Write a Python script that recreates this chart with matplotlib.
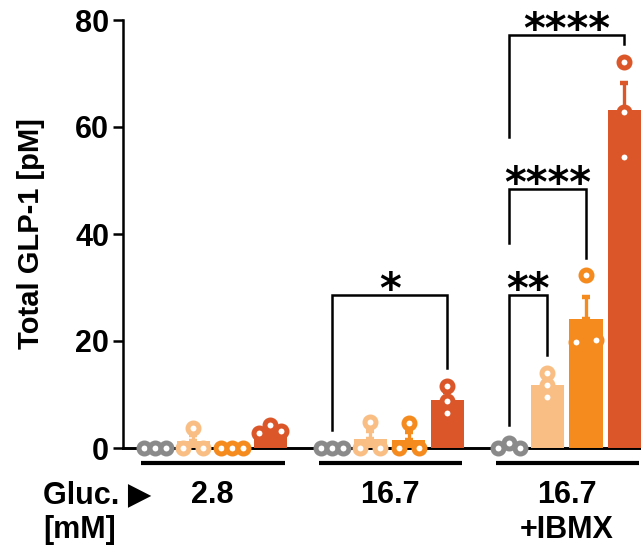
import numpy as np
import matplotlib.pyplot as plt

plt.rcParams['font.family'] = ['Liberation Sans', 'DejaVu Sans']
plt.rcParams['font.weight'] = 'bold'
plt.rcParams['axes.labelweight'] = 'bold'

# total GLP-1 [pM], three replicates per bar, four bars per glucose condition
gluc_labels = ['2.8', '16.7', '16.7\n+IBMX']
colors = ['#8a8a8a', '#f9be84', '#f58a1f', '#db5628']
gluc_2_8 = [[0, 0, 0], [3.7, 0, 0], [0, 0, 0], [2.8, 4.3, 3.2]]
gluc_16_7 = [[0, 0, 0], [4.9, 0, 0], [4.6, 0, 0], [11.6, 8.8, 6.6]]
gluc_16_7_ibmx = [[0, 1.0, 0], [14.0, 11.8, 9.5], [32.3, 19.9, 20.2], [72.2, 62.8, 54.4]]

# significance: (condition, bar a, bar b, stars, bracket height)
sig_cond = [1, 2, 2, 2]
sig_a = [0, 0, 0, 0]
sig_b = [3, 1, 2, 3]
sig_text = ['*', '**', '****', '****']
sig_top = [28.6, 28.6, 48.4, 77.2]

all_groups = [gluc_2_8, gluc_16_7, gluc_16_7_ibmx]

fig = plt.figure(figsize=(6.41, 5.48), dpi=100)
ax = fig.add_axes([123 / 641, 100 / 548, 1 - 123 / 641, 428 / 548])

xlim = (-0.83, 12.63)
ylim = (0, 80)
px_x = 518 / (xlim[1] - xlim[0])   # pixels per x unit
px_y = 428 / (ylim[1] - ylim[0])   # pixels per y unit
group_step = 4.6


def swarm(vals, d=11):
    # put near-equal values side by side, keep replicate order in a row
    vals = np.asarray(vals, float)
    order = np.argsort(vals, kind='stable')
    rows, cur = [], [order[0]]
    for i in order[1:]:
        if (vals[i] - vals[cur[0]]) * px_y < d:
            cur.append(i)
        else:
            rows.append(cur)
            cur = [i]
    rows.append(cur)
    off = np.zeros(len(vals))
    for r in rows:
        r = sorted(r)
        n = len(r)
        gap = 20 if n == 2 else 11
        for k, i in enumerate(r):
            off[i] = (k - (n - 1) / 2) * gap / px_x
    return off


bar_x = {}
bar_top = {}
for g, grp in enumerate(all_groups):
    for b, vals in enumerate(grp):
        x = g * group_step + b
        vals = np.array(vals, float)
        m = vals.mean()
        sem = vals.std(ddof=1) / np.sqrt(len(vals))
        ax.bar(x, m, width=0.86, color=colors[b], zorder=2)
        ax.errorbar(x, m, yerr=[[0], [sem]], fmt='none', ecolor=colors[b],
                    elinewidth=2.4, capsize=3, capthick=3.2, zorder=3)
        ax.plot(x + swarm(vals), vals, 'o', ms=7.9, mew=3.6, mfc='white',
                mec=colors[b], clip_on=False, zorder=4)
        bar_x[(g, b)] = x
        bar_top[(g, b)] = vals.max()

# brackets
for i in range(len(sig_text)):
    g = sig_cond[i]
    xa = bar_x[(g, sig_a[i])]
    xb = bar_x[(g, sig_b[i])]
    top = sig_top[i]
    prev = [sig_top[j] for j in range(i) if sig_cond[j] == g]
    left_end = prev[-1] + 9.8 if prev else bar_top[(g, sig_a[i])] + 3.3
    right_end = bar_top[(g, sig_b[i])] + 3.3
    ax.plot([xa, xa, xb, xb], [left_end, top, top, right_end], color='black',
            lw=1.8, solid_joinstyle='miter', clip_on=False, zorder=5)
    ax.annotate(sig_text[i], xy=((xa + xb) / 2, top), xytext=(0, -6),
                textcoords='offset points', ha='center', va='baseline',
                fontsize=30, family='DejaVu Sans', fontweight='bold')

# group underlines and labels
for g, lab in enumerate(gluc_labels):
    x0 = g * group_step
    ax.plot([x0 - 0.35, x0 + 3.38], [-15 / px_y] * 2, color='black', lw=3,
            solid_capstyle='butt', clip_on=False)
    lines = lab.split('\n')
    for k, line in enumerate(lines):
        ax.text(x0 + 1.5, (-55 - 35 * k) / px_y, line, ha='center',
                va='baseline', fontsize=22)

fig.text(43 / 641, 1 - 503 / 548, 'Gluc. \u25b6', ha='left', va='baseline',
         fontsize=22)
fig.text(43 / 641, 1 - 538 / 548, '[mM]', ha='left', va='baseline',
         fontsize=22)

ax.set_xlim(*xlim)
ax.set_ylim(*ylim)
ax.set_yticks([0, 20, 40, 60, 80])
ax.set_xticks([])
ax.set_ylabel('Total GLP-1 [pM]', fontsize=21, fontweight='bold')
ax.yaxis.set_label_coords(-0.15, 0.5)
ax.tick_params(axis='y', length=7, width=1.8, labelsize=22, pad=3)
for s in ['top', 'right']:
    ax.spines[s].set_visible(False)
ax.spines['left'].set_linewidth(1.8)
ax.spines['bottom'].set_linewidth(2.1)
ax.spines['bottom'].set_zorder(1)

fig.savefig('out.png', dpi=100)
